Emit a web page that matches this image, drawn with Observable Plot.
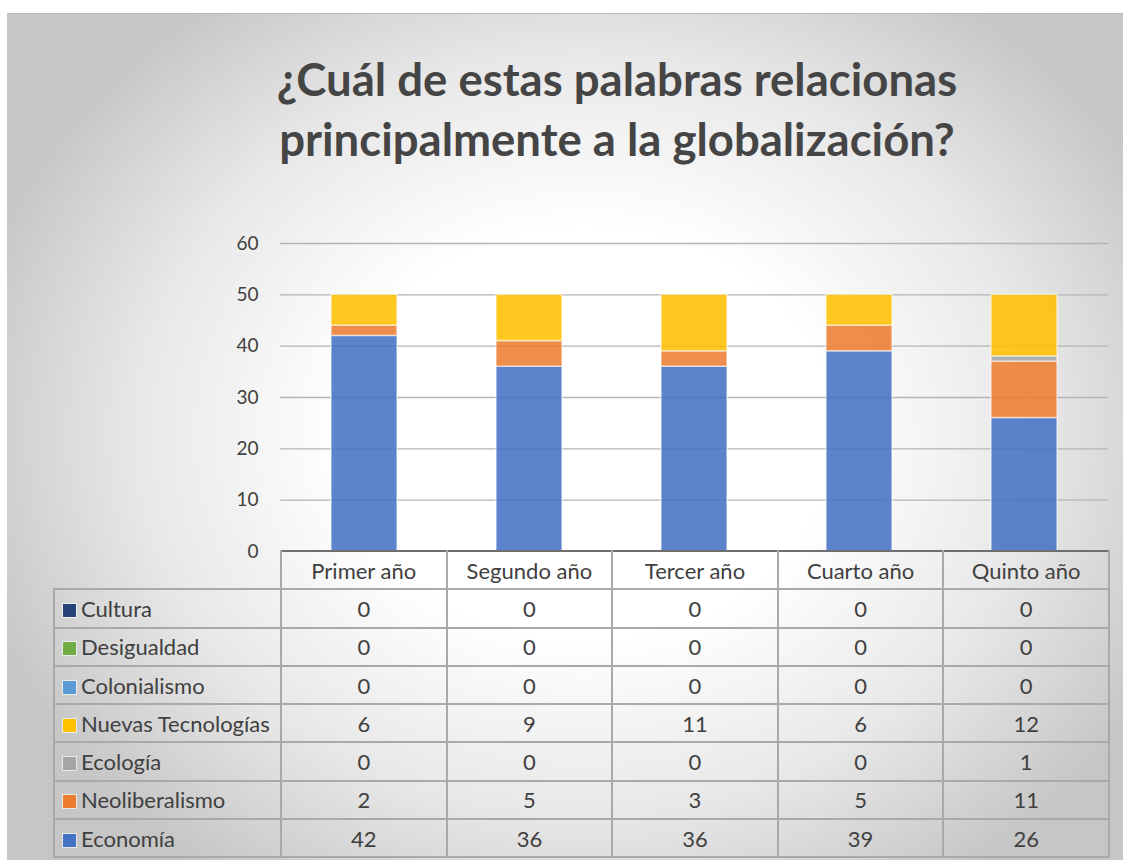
<!DOCTYPE html>
<html>
<head>
<meta charset="utf-8">
<script src="https://cdn.jsdelivr.net/npm/d3@7"></script>
<script src="https://cdn.jsdelivr.net/npm/@observablehq/plot@0.6"></script>
<style>
  html, body { margin: 0; padding: 0; background: #fff; }
  #page { position: relative; width: 1123px; height: 860px; overflow: hidden; font-family: Lato, "Open Sans", sans-serif; }
  #frame { position: absolute; left: 7px; top: 13px; width: 1116px; height: 847px;
    background: radial-gradient(ellipse 640px 540px at 580px 420px, #ffffff 0%, #ffffff 38%, #e8e8e8 70%, #c6c6c6 100%);
    border-top: 1px solid #b8b8b8; box-sizing: border-box; }
  #title { position: absolute; left: 167px; width: 900px; top: 49px; text-align: center;
    font-weight: 700; font-size: 45.5px; line-height: 60px; color: #454545; }
  #chart { position: absolute; left: 0; top: 220px; }
  table { position: absolute; left: 53px; top: 550px; border-collapse: collapse; table-layout: fixed; color: #404040; font-size: 22px; }
  td { height: 38.3px; padding: 0; border: 2px solid #a9a9a9; text-align: center; box-sizing: border-box; }
  tr.head td { border-top: 2px solid #6f6f6f; }
  tr.head td.blank { border: none; border-right: 2px solid #a9a9a9; }
  td.lab { text-align: left; padding-left: 8px; white-space: nowrap; }
  .key { display: inline-block; width: 13px; height: 13px; margin-right: 5px; vertical-align: 0px; box-shadow: 0 0 0 1px rgba(255,255,255,0.6); }
</style>
</head>
<body>
<div id="page">
  <div id="frame"></div>
  <div id="title">¿Cuál de estas palabras relacionas<br>principalmente a la globalización?</div>
  <div id="chart"></div>
  <table id="tbl"></table>
</div>
<script>
const years = ["Primer año", "Segundo año", "Tercer año", "Cuarto año", "Quinto año"];
// stacking order, bottom to top
const seriesNames = ["Economía", "Neoliberalismo", "Ecología", "Nuevas Tecnologías", "Colonialismo", "Desigualdad", "Cultura"];
const seriesColors = ["#4472C4", "#ED7D31", "#A5A5A5", "#FFC000", "#5B9BD5", "#70AD47", "#264478"];
const economia = [42, 36, 36, 39, 26];
const neoliberalismo = [2, 5, 3, 5, 11];
const ecologia = [0, 0, 0, 0, 1];
const nuevasTecnologias = [6, 9, 11, 6, 12];
const colonialismo = [0, 0, 0, 0, 0];
const desigualdad = [0, 0, 0, 0, 0];
const cultura = [0, 0, 0, 0, 0];
const yTicks = [0, 10, 20, 30, 40, 50, 60];
// table row order (top to bottom)
const tableOrder = ["Cultura", "Desigualdad", "Colonialismo", "Nuevas Tecnologías", "Ecología", "Neoliberalismo", "Economía"];

const seriesValues = [economia, neoliberalismo, ecologia, nuevasTecnologias, colonialismo, desigualdad, cultura];
const rows = [];
seriesNames.forEach((s, i) => years.forEach((y, j) => rows.push({series: s, year: y, value: seriesValues[i][j]})));

const plot = Plot.plot({
  width: 1123,
  height: 341,
  marginLeft: 280,
  marginRight: 15,
  marginTop: 23,
  marginBottom: 10,
  style: {background: "transparent", fontFamily: "Lato, 'Open Sans', sans-serif"},
  x: {domain: years, paddingInner: 0.6, paddingOuter: 0.3, axis: null},
  y: {domain: [0, 60], ticks: yTicks, label: null, tickSize: 0, tickPadding: 22},
  color: {domain: seriesNames, range: seriesColors},
  marks: [
    Plot.ruleY(yTicks.filter(d => d > 0), {stroke: "#b4b4b4", strokeWidth: 1.4}),
    Plot.axisY({ticks: yTicks, tickSize: 0, tickPadding: 22, fontSize: 19, fill: "#404040", label: null}),
    Plot.barY(rows.filter(d => d.value > 0), Plot.stackY({
      x: "year", y: "value", fill: "series", order: seriesNames,
      fillOpacity: 0.87, stroke: "#ffffff", strokeOpacity: 0.55, strokeWidth: 1.5
    }))
  ]
});
document.getElementById("chart").appendChild(plot);

// data table
const colW = 828 / years.length;
const tbl = document.getElementById("tbl");
let html = `<colgroup><col style="width:227px">${years.map(() => `<col style="width:${colW}px">`).join("")}</colgroup>`;
html += `<tr class="head"><td class="blank"></td>${years.map(y => `<td>${y}</td>`).join("")}</tr>`;
tableOrder.forEach(name => {
  const i = seriesNames.indexOf(name);
  html += `<tr><td class="lab"><span class="key" style="background:${seriesColors[i]}"></span>${name}</td>${seriesValues[i].map(v => `<td>${v}</td>`).join("")}</tr>`;
});
tbl.innerHTML = html;
</script>
</body>
</html>
